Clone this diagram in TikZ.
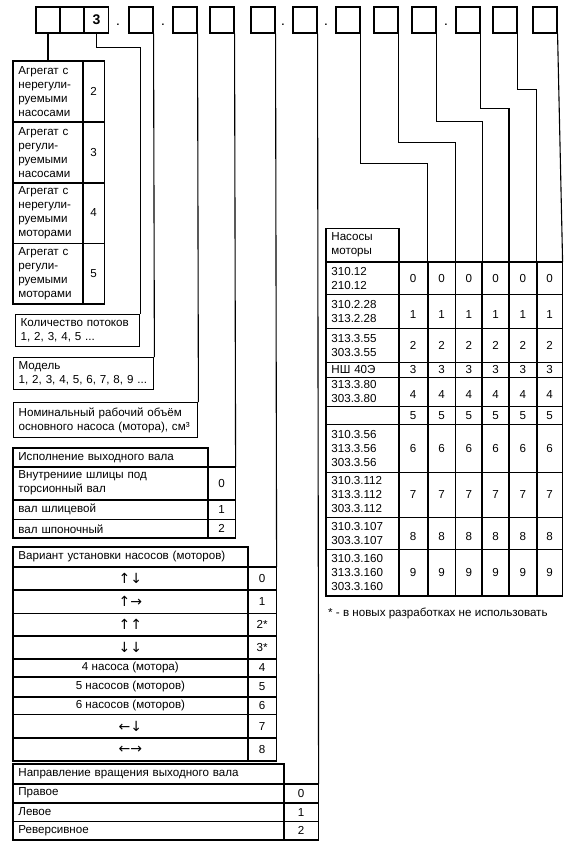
\documentclass[tikz,border=0pt]{standalone}
\usepackage{fontspec}
\setmainfont{Liberation Sans}
\newfontfamily\arwfont{DejaVu Sans}
\newcommand\arw{\arwfont\fontsize{14}{14}\selectfont}
\usetikzlibrary{positioning}

\tikzset{
    digit/.style={draw, line width=1.1pt, minimum width=24pt, minimum height=26pt, inner sep=0pt, font=\fontsize{14}{14}\selectfont\bfseries},
    link/.style={line width=1.1pt},
    cell/.style={draw, line width=0.8pt, inner xsep=5pt, inner ysep=0pt, align=left},
    num/.style={draw, line width=0.8pt, inner sep=0pt, align=center},
    note/.style={draw, line width=1.4pt, inner xsep=5pt, inner ysep=0pt, align=left, anchor=north west},
    frame/.style={line width=1.4pt}
}

\begin{document}
\begin{tikzpicture}[x=1pt, y=-1pt, font=\fontsize{11.6}{14}\selectfont]
\useasboundingbox (0,0) rectangle (573,846);
% code boxes
\node[digit] (c1) at (48,20) {};
\node[digit] (c2) at (72,20) {};
\node[digit] (c3) at (96.5,20) {3};
\node[digit] (c4) at (141,20) {};
\node[digit] (c5) at (185,20) {};
\node[digit] (c6) at (222,20) {};
\node[digit] (c7) at (263,20) {};
\node[digit] (c8) at (305,20) {};
\node[digit] (c9) at (348,20) {};
\node[digit] (c10) at (386,20) {};
\node[digit] (c11) at (424,20) {};
\node[digit] (c12) at (468,20) {};
\node[digit] (c13) at (505,20) {};
\node[digit] (c14) at (545,20) {};
\node[inner sep=0pt, font=\bfseries] (p1) at (118,25) {.};
\node[inner sep=0pt, font=\bfseries] (p2) at (163,25) {.};
\node[inner sep=0pt, font=\bfseries] (p3) at (283,25) {.};
\node[inner sep=0pt, font=\bfseries] (p4) at (326,25) {.};
\node[inner sep=0pt, font=\bfseries] (p5) at (446,25) {.};

% unit type
\node[cell, text width=59pt, minimum height=60pt, anchor=north west] (a2) at (13,61) {Агрегат с\\нерегули-\\руемыми\\насосами};
\node[num, minimum width=21pt, minimum height=60pt, right=0pt of a2] (a2n) {2};
\node[cell, text width=59pt, minimum height=60pt, below=0pt of a2] (a3) {Агрегат с\\регули-\\руемыми\\насосами};
\node[num, minimum width=21pt, minimum height=60pt, right=0pt of a3] (a3n) {3};
\node[cell, text width=59pt, minimum height=60pt, below=0pt of a3] (a4) {Агрегат с\\нерегули-\\руемыми\\моторами};
\node[num, minimum width=21pt, minimum height=60pt, right=0pt of a4] (a4n) {4};
\node[cell, text width=59pt, minimum height=60pt, below=0pt of a4] (a5) {Агрегат с\\регули-\\руемыми\\моторами};
\node[num, minimum width=21pt, minimum height=60pt, right=0pt of a5] (a5n) {5};
\draw[frame] (a2.north west) rectangle (a5n.south east);

\node[note, text width=114pt, minimum height=32pt] (flows) at (15,314) {Количество потоков\\1, 2, 3, 4, 5 ...};
\node[note, text width=130pt, minimum height=32pt] (model) at (13,357) {Модель\\1, 2, 3, 4, 5, 6, 7, 8, 9 ...};
\node[note, text width=174pt, minimum height=35pt] (volume) at (13,402) {Номинальный рабочий объём\\основного насоса (мотора), см³};

% output shaft
\node[cell, text width=184pt, minimum height=18pt, anchor=north west] (shaft) at (13,448) {Исполнение выходного вала};
\node[cell, text width=184pt, minimum height=32pt, below=0pt of shaft] (shaft0) {Внутрениие шлицы под\\торсионный вал};
\node[num, minimum width=27pt, minimum height=32pt, right=0pt of shaft0] (shaft0n) {0};
\node[cell, text width=184pt, minimum height=19pt, below=0pt of shaft0] (shaft1) {вал шлицевой};
\node[num, minimum width=27pt, minimum height=19pt, right=0pt of shaft1] (shaft1n) {1};
\node[cell, text width=184pt, minimum height=18pt, below=0pt of shaft1] (shaft2) {вал шпоночный};
\node[num, minimum width=27pt, minimum height=18pt, right=0pt of shaft2] (shaft2n) {2};
\draw[frame] (shaft2.south west) |- (shaft.north east) |- (shaft0n.north east) |- (shaft2.south west) -- cycle;

% mounting
\node[cell, text width=224pt, minimum height=19pt, anchor=north west] (mount0) at (13,547) {Вариант установки насосов (моторов)};
\foreach \h/\t/\n [count=\i from 1, remember=\i as \last (initially 0)] in
    {22/{\arw ↑↓}/0, 23/{\arw ↑→}/1, 22/{\arw ↑↑}/2*, 22/{\arw ↓↓}/3*, 17/4 насоса (мотора)/4,
     19/5 насосов (моторов)/5, 17/6 насосов (моторов)/6, 23/{\arw ←↓}/7, 22/{\arw ←→}/8} {
    \node[num, minimum width=234pt, minimum height=\h pt, below=0pt of mount\last] (mount\i) {\t};
    \node[num, minimum width=28pt, minimum height=\h pt, right=0pt of mount\i] (mnum\i) {\n};
}
\draw[frame] (mount9.south west) |- (mount0.north east) |- (mnum1.north east) |- (mount9.south west) -- cycle;

% rotation
\node[cell, text width=260pt, minimum height=19pt, anchor=north west] (turn) at (13,764) {Направление вращения выходного вала};
\node[cell, text width=260pt, minimum height=18pt, below=0pt of turn] (turn0) {Правое};
\node[num, minimum width=34pt, minimum height=18pt, right=0pt of turn0] (turn0n) {0};
\node[cell, text width=260pt, minimum height=18pt, below=0pt of turn0] (turn1) {Левое};
\node[num, minimum width=34pt, minimum height=18pt, right=0pt of turn1] (turn1n) {1};
\node[cell, text width=260pt, minimum height=18pt, below=0pt of turn1] (turn2) {Реверсивное};
\node[num, minimum width=34pt, minimum height=18pt, right=0pt of turn2] (turn2n) {2};
\draw[frame] (turn2.south west) |- (turn.north east) |- (turn0n.north east) |- (turn2.south west) -- cycle;

% pumps and motors
\foreach \y/\h/\lab/\n [count=\i from 0] in
    {262/32/{310.12\\210.12}/0, 294/34/{310.2.28\\313.2.28}/{\mbox{}\\1},
     328/34/{313.3.55\\303.3.55}/2, 362/15/{НШ 40Э}/3,
     377/29/{313.3.80\\303.3.80}/{\mbox{}\\4}, 406/18/{}/5,
     424/48/{310.3.56\\313.3.56\\303.3.56}/6, 472/45/{310.3.112\\313.3.112\\303.3.112}/7,
     517/32/{310.3.107\\303.3.107}/{\mbox{}\\8}, 549/46/{310.3.160\\313.3.160\\303.3.160}/9} {
    \node[cell, text width=62pt, minimum height=\h pt, anchor=north west] (r\i-0) at (326,\y) {\lab};
    \foreach \w [count=\c, remember=\c as \d (initially 0)] in {28,27,26,26,27,25}
        \node[num, minimum width=\w pt, minimum height=\h pt, anchor=north west] (r\i-\c) at (r\i-\d.north east) {\n};
}
\node[cell, text width=62pt, minimum height=33pt, anchor=south west] (pumps) at (r0-0.north west) {Насосы\\моторы};
\draw[frame] (r9-0.south west) |- (pumps.north east) |- (r0-6.north east) |- (r9-0.south west) -- cycle;
\node[anchor=west, inner sep=0pt] (foot) at (328,613) {* - в новых разработках не использовать};

% connectors
\draw[link] (c1.south) -- (a2.north -| c1.south);
\draw[link] (c3.south) -- ++(0,14) -| (flows.north east);
\draw[link] (c4.south east) -- (model.north east);
\draw[link] (c5.south east) -- (volume.north east);
\draw[link] (c6.south east) -- (shaft0n.north east);
\draw[link] (c7.south east) -- (mnum1.north east);
\draw[link] (c8.south east) -- (turn0n.north east);
\draw[link] (c9.south east) -- ++(0,130) -| (r0-1.north east);
\draw[link] (c10.south east) -- ++(0,109) -| (r0-2.north east);
\draw[link] (c11.south east) -- ++(0,88) -| (r0-3.north east);
\draw[link] (c12.south east) -- ++(0,75) -| (r0-4.north east);
\draw[link] (c13.south east) -- ++(0,56) -| (r0-5.north east);
\draw[link] (c14.south east) -- (r0-6.north east);
\end{tikzpicture}
\end{document}
